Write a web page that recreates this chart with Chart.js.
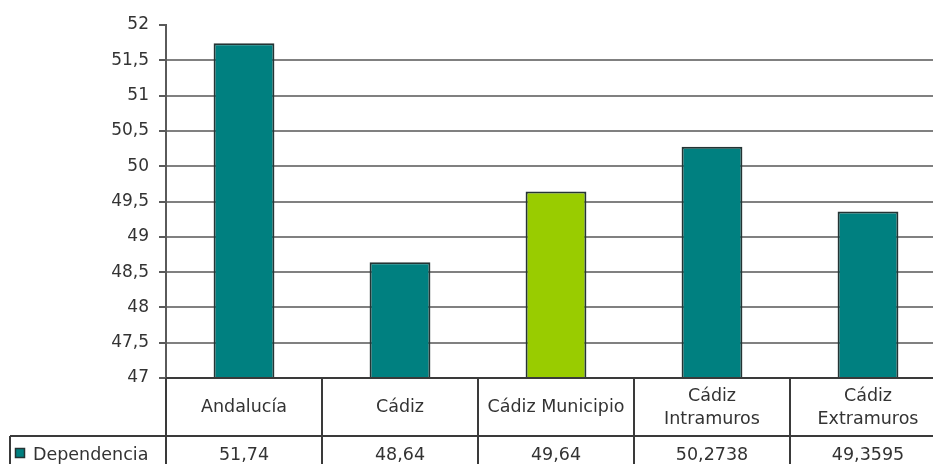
<!DOCTYPE html>
<html>
<head>
<meta charset="utf-8">
<script src="https://cdn.jsdelivr.net/npm/chart.js@4/dist/chart.umd.min.js"></script>
<style>
  html, body { margin: 0; padding: 0; background: #fff; overflow: hidden; }
  #wrap { width: 950px; height: 464px; }
</style>
</head>
<body>
<div id="wrap"><canvas id="chart" width="950" height="464"></canvas></div>
<script>
// --- Data ---
const categories = ['Andalucía', 'Cádiz', 'Cádiz Municipio', 'Cádiz Intramuros', 'Cádiz Extramuros'];
const headerLines = [['Andalucía'], ['Cádiz'], ['Cádiz Municipio'], ['Cádiz', 'Intramuros'], ['Cádiz', 'Extramuros']];
const values = [51.74, 48.64, 49.64, 50.2738, 49.3595];
const valueLabels = ['51,74', '48,64', '49,64', '50,2738', '49,3595'];
const seriesName = 'Dependencia';
const yMin = 47, yMax = 52, yStep = 0.5;

const colors = {
  teal: '#008080',
  green: '#99cc00',
  barBorder: '#243434',
  grid: '#808080',
  axis: '#5a5a5a',
  table: '#3a3a3a',
  text: '#333'
};
const barColors = categories.map((c, i) => i === 2 ? colors.green : colors.teal);

// --- Data table drawn under the plot, aligned with the category scale ---
const dataTablePlugin = {
  id: 'dataTable',
  afterDraw(chart) {
    const ctx = chart.ctx;
    const area = chart.chartArea;
    const x = chart.scales.x;
    const colW = x.width / categories.length;
    const headTop = area.bottom, headBot = 436, rowBot = 480;
    const legendLeft = 10;

    ctx.save();
    ctx.strokeStyle = colors.table;
    ctx.lineWidth = 2;
    ctx.beginPath();
    ctx.moveTo(area.left, headTop); ctx.lineTo(area.right, headTop);
    ctx.moveTo(legendLeft, headBot); ctx.lineTo(area.right, headBot);
    ctx.moveTo(legendLeft, headBot); ctx.lineTo(legendLeft, rowBot);
    for (let i = 0; i <= categories.length; i++) {
      const bx = area.left + i * colW;
      ctx.moveTo(bx, headTop); ctx.lineTo(bx, rowBot);
    }
    ctx.stroke();

    ctx.fillStyle = colors.text;
    ctx.font = '17.5px "DejaVu Sans", sans-serif';
    ctx.textAlign = 'center';
    ctx.textBaseline = 'middle';
    categories.forEach((c, i) => {
      const cx = x.getPixelForValue(i);
      const lines = headerLines[i];
      if (lines.length === 1) {
        ctx.fillText(lines[0], cx, 407);
      } else {
        ctx.fillText(lines[0], cx, 396);
        ctx.fillText(lines[1], cx, 419);
      }
      ctx.fillText(valueLabels[i], cx, 455);
    });

    // legend key
    ctx.fillStyle = colors.teal;
    ctx.fillRect(15, 448, 10, 10);
    ctx.lineWidth = 1.5;
    ctx.strokeStyle = colors.barBorder;
    ctx.strokeRect(15.5, 448.5, 9, 9);
    ctx.fillStyle = colors.text;
    ctx.textAlign = 'left';
    ctx.fillText(seriesName, 33, 455);
    ctx.restore();
  }
};

new Chart(document.getElementById('chart').getContext('2d'), {
  type: 'bar',
  data: {
    labels: categories,
    datasets: [{
      label: seriesName,
      data: values,
      base: yMin,
      backgroundColor: barColors,
      borderColor: colors.barBorder,
      borderWidth: 2,
      barPercentage: 0.39,
      categoryPercentage: 1
    }]
  },
  options: {
    responsive: false,
    animation: false,
    layout: { padding: { top: 25, bottom: 86, left: 0, right: 4 } },
    plugins: { legend: { display: false }, tooltip: { enabled: false } },
    scales: {
      x: { display: false },
      y: {
        min: yMin,
        max: yMax,
        afterFit(scale) { scale.width = 166; },
        ticks: {
          stepSize: yStep,
          color: colors.text,
          padding: 10,
          font: { family: '"DejaVu Sans", sans-serif', size: 17 },
          callback: v => String(v).replace('.', ',')
        },
        grid: {
          color: ctx => ctx.tick && ctx.tick.value === yMax ? 'transparent' : colors.grid,
          tickColor: colors.axis,
          tickLength: 7,
          lineWidth: 2
        },
        border: { display: true, color: colors.axis, width: 2 }
      }
    }
  },
  plugins: [dataTablePlugin]
});
</script>
</body>
</html>
